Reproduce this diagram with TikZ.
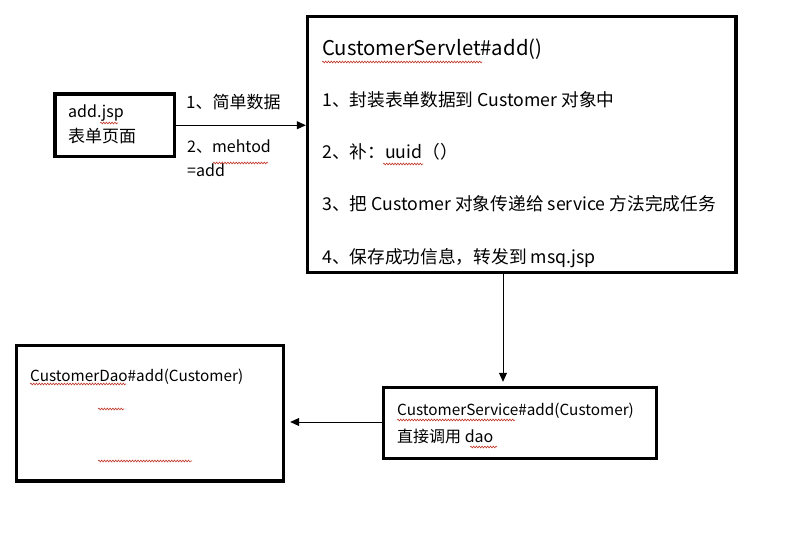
\documentclass[tikz,border=0pt]{standalone}
\usepackage{fontspec}
\setmainfont{Noto Sans CJK SC}
\usetikzlibrary{arrows.meta, positioning, calc, decorations.pathmorphing}
\definecolor{inkblack}{HTML}{000000}
\definecolor{spellred}{HTML}{C0392B}

\begin{document}
\begin{tikzpicture}[x=1pt, y=-1pt, >={Triangle[length=9pt, width=8pt]},
  box/.style={draw=inkblack, line width=3.4pt, inner sep=0pt},
  txt/.style={anchor=base west, inner sep=0pt, text=inkblack, font=\fontsize{16}{19}\selectfont},
  smalltxt/.style={txt, font=\fontsize{15.3}{18}\selectfont},
  cjktxt/.style={txt, font=\fontsize{17}{20}\selectfont},
  bigtxt/.style={txt, font=\fontsize{17.7}{21}\selectfont},
  spell/.style={spellred, line width=0.6pt, decorate,
    decoration={snake, amplitude=0.9pt, segment length=2.8pt}}]

% Canvas (pixel grid of the reference, y downwards)
\useasboundingbox (0,0) rectangle (811,540);

% Boxes
\node[box, minimum width=119.5pt, minimum height=62.5pt] (jsp) at (114.75,125.25) {};
\node[box, minimum width=428.5pt, minimum height=256pt] (servlet) at (521.75,144.5) {};
\node[box, minimum width=273pt, minimum height=71pt] (service) at (520,423) {};
\node[box, minimum width=267pt, minimum height=135.5pt] (dao) at (150,413.25) {};

% add.jsp
\node[txt] (jspname) at (68,118) {add.jsp};
\node[cjktxt] (jspdesc) at (68,143) {表单页面};

% request labels
\node[cjktxt] (req1) at (186,109) {1、简单数据};
\node[txt] (req2) at (187,153) {2、mehtod};
\node[txt] (req3) at (187,177) {=add};

% CustomerServlet
\node[bigtxt, font=\fontsize{20.3}{24}\selectfont] (sname) at (322,56) {CustomerServlet\#add()};
\node[bigtxt] (step1) at (322,107) {1、封装表单数据到 Customer 对象中};
\node[bigtxt] (step2) at (322,159) {2、补：uuid（）};
\node[bigtxt] (step3) at (322,211) {3、把 Customer 对象传递给 service 方法完成任务};
\node[bigtxt] (step4) at (322,263) {4、保存成功信息，转发到 msq.jsp};

% CustomerService
\node[smalltxt] (svcname) at (397,415) {CustomerService\#add(Customer)};
\node[txt] (svcdesc) at (397,442) {直接调用 dao};

% CustomerDao
\node[smalltxt] (daoname) at (30,381) {CustomerDao\#add(Customer)};

% Connectors
\coordinate (downx) at (503,0);
\draw[inkblack, line width=0.8pt, ->] (jsp.east) -- (jsp.east -| servlet.west);
\draw[inkblack, line width=0.8pt, ->] (servlet.south -| downx) -- ($(service.north -| downx)+(0,-4)$);
\draw[inkblack, line width=0.8pt, ->] (service.west |- 0,422) -- ($(dao.east |- 0,422)+(5,0)$);

% spell-check marks
\draw[spell] (100,123) -- (118,123);
\draw[spell] (213,163) -- (268,163);
\draw[spell] (322,62) -- (482,62);
\draw[spell] (383,164) -- (423,164);
\draw[spell] (30,384) -- (126,384);
\draw[spell] (98,409) -- (124,409);
\draw[spell] (98,461) -- (192,461);
\draw[spell] (397,420) -- (515,420);
\draw[spell] (470,447) -- (497,447);

\end{tikzpicture}
\end{document}
